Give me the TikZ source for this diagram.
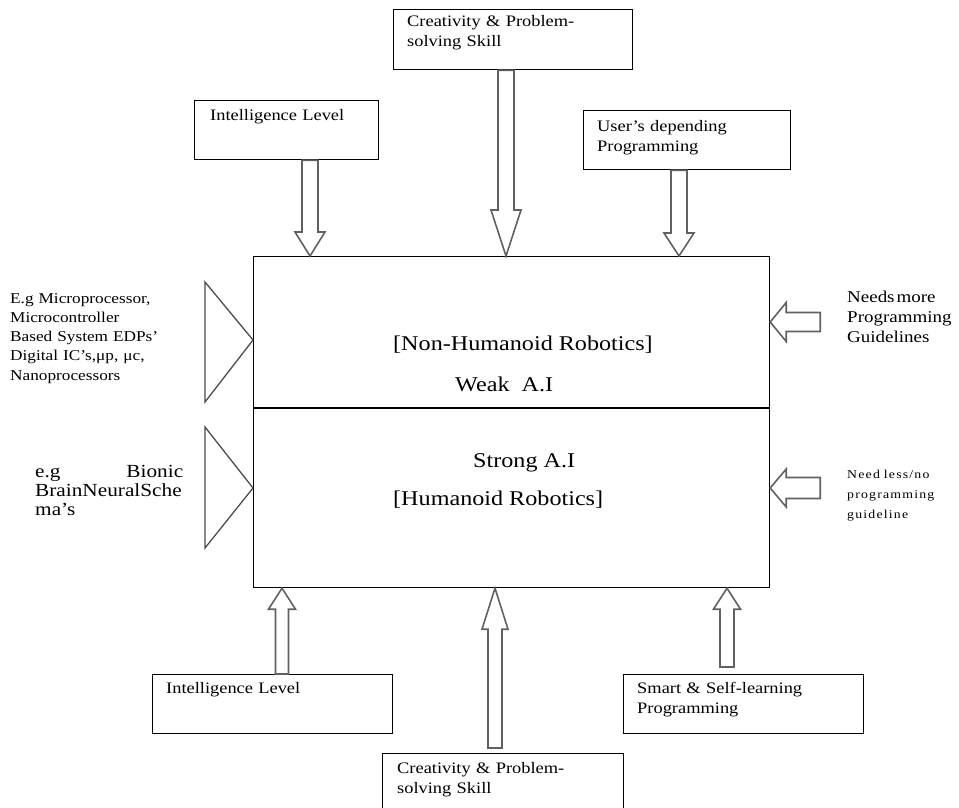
\documentclass[tikz,border=0pt]{standalone}
\usepackage{fontspec}
\setmainfont{Liberation Serif}[FakeStretch=1.15]
\usetikzlibrary{calc}

% block arrow pointing down: #1 tail point, #2 tip, #3 half shaft, #4 half head, #5 head length
\newcommand\blkdown[5]{%
  \draw[blk] let \p1=(#1), \p2=(#2) in
    (\x2-#3pt,\y1) -- (\x2-#3pt,\y2+#5pt) -- (\x2-#4pt,\y2+#5pt) -- (\x2,\y2)
    -- (\x2+#4pt,\y2+#5pt) -- (\x2+#3pt,\y2+#5pt) -- (\x2+#3pt,\y1) -- cycle;}
% block arrow pointing up
\newcommand\blkup[5]{%
  \draw[blk] let \p1=(#1), \p2=(#2) in
    (\x2-#3pt,\y1) -- (\x2-#3pt,\y2-#5pt) -- (\x2-#4pt,\y2-#5pt) -- (\x2,\y2)
    -- (\x2+#4pt,\y2-#5pt) -- (\x2+#3pt,\y2-#5pt) -- (\x2+#3pt,\y1) -- cycle;}
% block arrow pointing left
\newcommand\blkleft[5]{%
  \draw[blk] let \p1=(#1), \p2=(#2) in
    (\x1,\y2+#3pt) -- (\x2+#5pt,\y2+#3pt) -- (\x2+#5pt,\y2+#4pt) -- (\x2,\y2)
    -- (\x2+#5pt,\y2-#4pt) -- (\x2+#5pt,\y2-#3pt) -- (\x1,\y2-#3pt) -- cycle;}

\begin{document}
\begin{tikzpicture}[x=1pt,y=-1pt,
  box/.style={draw=black, line width=1.2pt, rectangle, inner sep=0pt, anchor=north west},
  blk/.style={draw=black!62, line width=1.6pt, line join=miter, fill=white},
  tri/.style={draw=black!70, line width=1.3pt, line join=miter},
  txt/.style={inner sep=0pt, anchor=base west, align=left},
  lbl/.style={txt, text width=225pt, font=\fontsize{16}{20}\selectfont},
  big/.style={inner sep=0pt, anchor=base west, font=\fontsize{21}{24}\selectfont}]
\useasboundingbox (0,0) rectangle (959,807);
\clip (0,0) rectangle (959,807);

% central block
\node[box, minimum width=516pt, minimum height=331pt] (main) at (253,256) {};
\coordinate (divL) at ($(main.north west)+(0,152)$);
\coordinate (divR) at ($(main.north east)+(0,152)$);
\draw[line width=1.2pt] (divL) -- (divR);

\node[big] (nonhum) at (393,350) {[Non-Humanoid Robotics]};
\node[big] (weak) at (455,391) {Weak~~A.I};
\node[big] (strong) at (473,467) {Strong A.I};
\node[big] (hum) at (393,505) {[Humanoid Robotics]};

% upper input boxes
\node[box, minimum width=239pt, minimum height=60pt] (ctop) at (393,9) {};
\node[lbl] (ctoptxt) at (407,26) {Creativity \& Problem-\\solving Skill};
\node[box, minimum width=184pt, minimum height=59pt] (itop) at (194,100) {};
\node[lbl, text width=165pt] (itoptxt) at (210,120) {Intelligence Level};
\node[box, minimum width=207pt, minimum height=59pt] (utop) at (583,110) {};
\node[lbl, text width=190pt] (utoptxt) at (597,131) {User’s depending\\Programming};

% lower input boxes
\node[box, minimum width=240pt, minimum height=59pt] (ibot) at (152,674) {};
\node[lbl] (ibottxt) at (166,693) {Intelligence Level};
\node[box, minimum width=241pt, minimum height=80pt] (cbot) at (382,753) {};
\node[lbl] (cbottxt) at (397,773) {Creativity \& Problem-\\solving Skill};
\node[box, minimum width=240pt, minimum height=59pt] (sbot) at (623,674) {};
\node[lbl] (sbottxt) at (637,693) {Smart \& Self-learning\\Programming};

% arrow tips on the central block
\coordinate (tA) at ($(main.north west)+(57,0)$);
\coordinate (tB) at ($(main.north west)+(253,0)$);
\coordinate (tC) at ($(main.north west)+(426,0)$);
\coordinate (tD) at ($(main.south west)+(29,0)$);
\coordinate (tE) at ($(main.south west)+(242,0)$);
\coordinate (tF) at ($(main.south west)+(474,0)$);
\coordinate (tG) at ($(main.north east)+(0,66)$);
\coordinate (tH) at ($(main.north east)+(0,232)$);
\coordinate (gA) at ($(tG)+(50,0)$);
\coordinate (gB) at ($(tH)+(50,0)$);

\blkdown{itop.south -| tA}{tA}{8}{15}{24}
\blkdown{ctop.south -| tB}{tB}{8}{15}{46}
\blkdown{utop.south -| tC}{tC}{8}{15}{23}
\blkup{ibot.north -| tD}{tD}{6.5}{13.5}{21}
\blkup{$(cbot.north -| tE)+(0,-5)$}{tE}{7}{13}{41}
\blkup{$(sbot.north -| tF)+(0,-7)$}{tF}{7}{13.5}{21}
\blkleft{gA}{tG}{9.5}{19.5}{16}
\blkleft{gB}{tH}{10.5}{19}{16}

% side inputs on the left
\coordinate (lA) at ($(main.north west)+(0,84)$);
\coordinate (lB) at ($(main.north west)+(0,232)$);
\draw[tri] ($(lA)+(-48,-58)$) -- (lA) -- ($(lA)+(-48,62)$) -- cycle;
\draw[tri] ($(lB)+(-48,-61)$) -- (lB) -- ($(lB)+(-48,60)$) -- cycle;

\node[txt, text width=180pt, font=\fontsize{15}{19.3}\selectfont] (hw) at (10,303)
  {E.g Microprocessor,\\Microcontroller\\Based System EDPs’\\Digital IC’s,μp, μc,\\Nanoprocessors};
\node[inner sep=0pt, anchor=base west, font=\fontsize{18.5}{19}\selectfont, text width=148pt] (bio) at (35,477)
  {e.g\hfill Bionic\\BrainNeuralSche\\ma’s};

% side notes on the right
\node[txt, text width=115pt, font=\fontsize{16.5}{20}\selectfont] (more) at (847,302)
  {Needs\kern2pt more\\Programming\\Guidelines};
\node[txt, text width=110pt, font=\fontsize{12}{20}\selectfont\addfontfeature{LetterSpace=10}] (less) at (847,478)
  {Need less/no\\programming\\guideline};
\end{tikzpicture}
\end{document}
